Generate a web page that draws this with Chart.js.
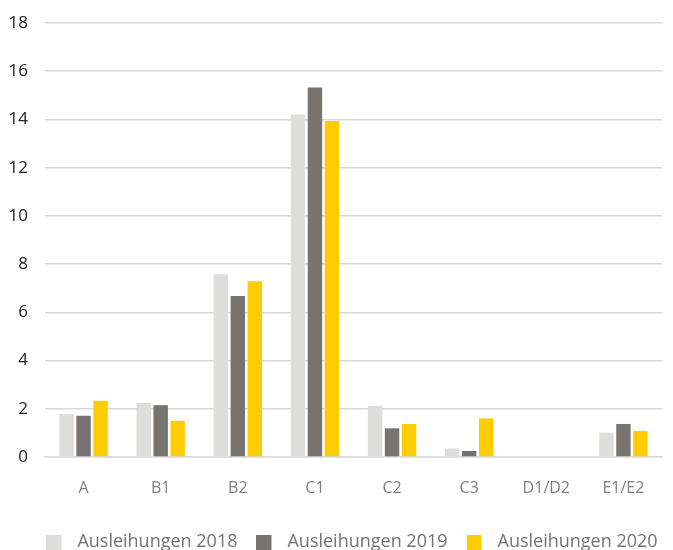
<!DOCTYPE html>
<html>
<head>
<meta charset="utf-8">
<script src="https://cdn.jsdelivr.net/npm/chart.js@4"></script>
<style>
  html, body { margin: 0; padding: 0; background: #ffffff; }
  #wrap { width: 673px; height: 550px; }
</style>
</head>
<body>
<div id="wrap"><canvas id="c" width="673" height="550"></canvas></div>
<script>
const categories = ['A', 'B1', 'B2', 'C1', 'C2', 'C3', 'D1/D2', 'E1/E2'];
const seriesNames = ['Ausleihungen 2018', 'Ausleihungen 2019', 'Ausleihungen 2020'];
const values2018 = [1.78, 2.24, 7.58, 14.21, 2.12, 0.35, 0, 1.01];
const values2019 = [1.71, 2.15, 6.68, 15.33, 1.19, 0.25, 0, 1.37];
const values2020 = [2.33, 1.50, 7.29, 13.94, 1.37, 1.60, 0, 1.08];
const yTicks = [0, 2, 4, 6, 8, 10, 12, 14, 16, 18];

const colors = ['#DDDDDB', '#77736F', '#FFCC00'];
const FONT = "'Open Sans', 'DejaVu Sans', sans-serif";

// legend marker: 15px square, left-aligned in a 22px wide slot
function marker(color) {
  const cv = document.createElement('canvas');
  cv.width = 22; cv.height = 15;
  const g = cv.getContext('2d');
  g.fillStyle = color;
  g.fillRect(0, 0, 15, 15);
  return cv;
}
const markers = colors.map(marker);

const legendShift = {
  id: 'legendShift',
  afterLayout(chart) {
    chart.legend.left += 21;
    chart.legend.right += 21;
  }
};

new Chart(document.getElementById('c'), {
  type: 'bar',
  data: {
    labels: categories,
    datasets: [
      { label: seriesNames[0], data: values2018, backgroundColor: colors[0] },
      { label: seriesNames[1], data: values2019, backgroundColor: colors[1] },
      { label: seriesNames[2], data: values2020, backgroundColor: colors[2] }
    ]
  },
  plugins: [legendShift],
  options: {
    responsive: false,
    animation: false,
    devicePixelRatio: 1,
    categoryPercentage: 0.66,
    barPercentage: 0.85,
    layout: { padding: { top: 23, left: 0, right: 11, bottom: -11 } },
    plugins: {
      tooltip: { enabled: false },
      legend: {
        position: 'bottom',
        labels: {
          usePointStyle: true,
          pointStyleWidth: 22,
          boxHeight: 15,
          padding: 19,
          color: '#767171',
          font: { family: FONT, size: 18 },
          generateLabels: (chart) => {
            const items = Chart.defaults.plugins.legend.labels.generateLabels(chart);
            items.forEach((it, i) => { it.pointStyle = markers[i]; it.rotation = 0; });
            return items;
          }
        }
      }
    },
    scales: {
      x: {
        grid: { display: false, drawTicks: false },
        border: { display: true, color: '#d9d9d9', width: 1.5 },
        ticks: {
          color: '#7f7f7f',
          font: { family: FONT, size: 16 },
          padding: 22,
          maxRotation: 0
        },
        afterFit: (s) => { s.height = 57; }
      },
      y: {
        min: 0,
        max: 18,
        afterBuildTicks: (s) => { s.ticks = yTicks.map(v => ({ value: v })); },
        grid: { color: '#d9d9d9', lineWidth: 1.5, drawTicks: false },
        border: { display: false },
        ticks: {
          color: '#222222',
          font: { family: FONT, size: 17 },
          padding: 17
        },
        afterFit: (s) => { s.width = 45; s.paddingTop = 0; s.paddingBottom = 0; }
      }
    }
  }
});
</script>
</body>
</html>
